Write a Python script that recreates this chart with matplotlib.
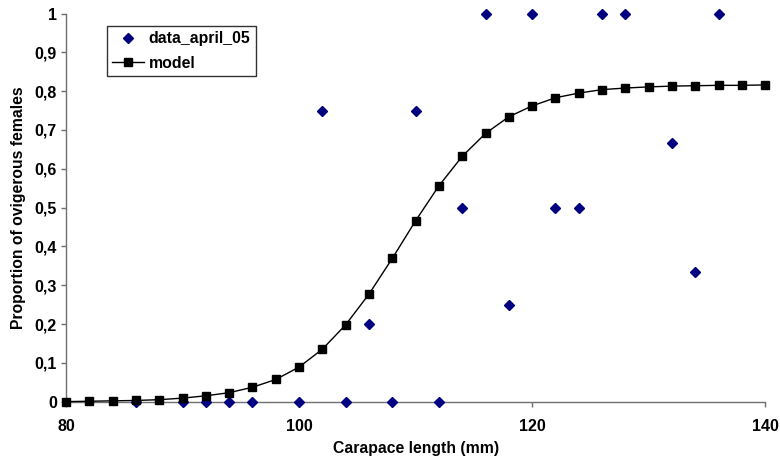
import matplotlib
matplotlib.use("Agg")
import matplotlib.pyplot as plt
from matplotlib.ticker import FuncFormatter

plt.rcParams['font.family'] = ['Liberation Sans', 'DejaVu Sans']

# Observed data
data_x = [86, 90, 92, 94, 96, 100, 104, 108, 112,
          102, 106, 110, 114, 116, 118, 120, 122, 124, 126, 128, 132, 134, 136]
data_y = [0, 0, 0, 0, 0, 0, 0, 0, 0,
          0.75, 0.2, 0.75, 0.5, 1, 0.25, 1, 0.5, 0.5, 1, 1, 0.667, 0.333, 1]

# Model
model_x = list(range(80, 141, 2))
model_y = [0.0, 0.001, 0.002, 0.003, 0.005, 0.009, 0.015, 0.023, 0.037, 0.057,
           0.089, 0.135, 0.198, 0.277, 0.369, 0.466, 0.556, 0.632, 0.691, 0.734,
           0.762, 0.783, 0.795, 0.804, 0.808, 0.811, 0.813, 0.814, 0.815, 0.815, 0.816]

x_ticks = [80, 100, 120, 140]
y_ticks = [0, 0.1, 0.2, 0.3, 0.4, 0.5, 0.6, 0.7, 0.8, 0.9, 1.0]

fig = plt.figure(figsize=(7.8, 4.67), dpi=100)
ax = fig.add_axes([0.0846, 0.14, 0.981 - 0.0846, 0.971 - 0.14])

ax.plot(data_x, data_y, linestyle='none', marker='D', markersize=5,
        color='#000080', label='data_april_05', clip_on=False, zorder=3)
ax.plot(model_x, model_y, color='black', linewidth=1, marker='s', markersize=6,
        label='model', clip_on=False, zorder=4)

ax.set_xlim(80, 140)
ax.set_ylim(0, 1)
ax.set_xticks(x_ticks)
ax.set_yticks(y_ticks)
ax.yaxis.set_major_formatter(FuncFormatter(lambda v, p: ('%g' % round(v, 1)).replace('.', ',')))

for s in ['top', 'right']:
    ax.spines[s].set_visible(False)
for s in ['left', 'bottom']:
    ax.spines[s].set_color('#707070')
    ax.spines[s].set_linewidth(1)
ax.tick_params(axis='both', direction='out', length=3.6, width=1, color='#707070',
               labelsize=11.5, pad=3)
ax.tick_params(axis='x', pad=9)
for lab in ax.get_xticklabels() + ax.get_yticklabels():
    lab.set_fontweight('bold')

ax.set_xlabel('Carapace length (mm)', fontsize=11.3, fontweight='bold', labelpad=5)
ax.set_ylabel('Proportion of ovigerous females', fontsize=11.3, fontweight='bold', labelpad=6)

leg = ax.legend(loc='upper left', bbox_to_anchor=(107 / 780, 1 - 26 / 467),
                bbox_transform=fig.transFigure, frameon=True, fancybox=False,
                edgecolor='black', fontsize=11.4, borderpad=0.33, borderaxespad=0,
                handlelength=2.0, handletextpad=0.3, labelspacing=0.6)
leg.get_frame().set_linewidth(1)
for t in leg.get_texts():
    t.set_fontweight('bold')

fig.savefig('out.png', dpi=100)
